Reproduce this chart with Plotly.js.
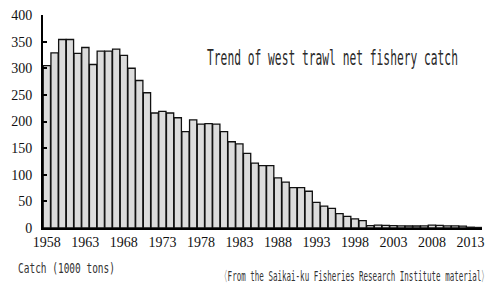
<!DOCTYPE html>
<html>
<head>
<meta charset="utf-8">
<script src="https://cdn.plot.ly/plotly-3.0.1.min.js"></script>
<style>
  html, body { margin: 0; padding: 0; background: #fff; }
  #chart { width: 500px; height: 293px; }
</style>
</head>
<body>
<div id="chart"></div>
<script>
// ---- data ----
var years = [1958, 1959, 1960, 1961, 1962, 1963, 1964, 1965, 1966, 1967,
             1968, 1969, 1970, 1971, 1972, 1973, 1974, 1975, 1976, 1977,
             1978, 1979, 1980, 1981, 1982, 1983, 1984, 1985, 1986, 1987,
             1988, 1989, 1990, 1991, 1992, 1993, 1994, 1995, 1996, 1997,
             1998, 1999, 2000, 2001, 2002, 2003, 2004, 2005, 2006, 2007,
             2008, 2009, 2010, 2011, 2012, 2013, 2014];
var catchValues = [305, 329, 354, 354, 328, 339, 307, 332, 332, 336,
                   324, 300, 277, 254, 216, 219, 216, 207, 181, 203,
                   195, 196, 195, 181, 162, 158, 140, 122, 117, 117,
                   94, 86, 76, 76, 69, 48, 41, 37, 27, 22,
                   17, 14, 4.5, 5.5, 5, 4.5, 4, 3.8, 3.8, 4,
                   5.5, 5, 4, 4, 3.5, 1.5, 1];
var xTickVals = [1958, 1963, 1968, 1973, 1978, 1983, 1988, 1993, 1998, 2003, 2008, 2013];
var xTickText = ["1958", "1963", "1968", "1973", "1978", "1983", "1988", "1993", "1998", "2003", "2008", "2013"];
var yTickVals = [0, 50, 100, 150, 200, 250, 300, 350, 400];
var titleText = "Trend of west trawl net fishery catch";
var unitText = "Catch (1000 tons)";
var sourceText = "\u3008From the Saikai-ku Fisheries Research Institute material\u3009";

// ---- chart ----
var trace = {
  type: 'bar',
  x: years,
  y: catchValues,
  marker: { color: '#dcdcdc', line: { color: '#111111', width: 1.3 } },
  hoverinfo: 'x+y'
};

var L = 42.5, R = 482, T = 15, B = 228.3;
function px2x(px) { return (px - L) / (R - L); }
function px2y(py) { return (B - py) / (B - T); }

var annFont = 'DejaVu Sans Mono, monospace';
var tickFont = { family: 'Liberation Serif, Times New Roman, serif', size: 14, color: '#111111' };
var layout = {
  width: 500, height: 293,
  margin: { l: L, r: 500 - R, t: T, b: 293 - B, pad: 0 },
  paper_bgcolor: '#ffffff',
  plot_bgcolor: '#ffffff',
  showlegend: false,
  bargap: 0.06,
  xaxis: {
    range: [1957.5, 2014.5],
    tickmode: 'array', tickvals: xTickVals, ticktext: xTickText,
    ticks: '', showgrid: false, zeroline: false,
    showline: true, linecolor: '#000000', linewidth: 2,
    tickfont: tickFont,
    ticklabelstandoff: 0
  },
  yaxis: {
    range: [0, 400],
    tickmode: 'array', tickvals: yTickVals,
    ticks: 'inside', ticklen: 4, tickwidth: 2, tickcolor: '#000000',
    showgrid: false, zeroline: false,
    showline: true, linecolor: '#000000', linewidth: 2,
    tickfont: tickFont,
    ticklabelstandoff: 6
  },
  annotations: [
    { text: titleText, xref: 'paper', yref: 'paper', x: px2x(205), y: px2y(58),
      xanchor: 'left', yanchor: 'middle', showarrow: false,
      font: { family: annFont, size: 22, color: '#2a2a2a' } },
    { text: unitText, xref: 'paper', yref: 'paper', x: px2x(15), y: px2y(268),
      xanchor: 'left', yanchor: 'middle', showarrow: false,
      font: { family: annFont, size: 14, color: '#333333' } },
    { text: sourceText, xref: 'paper', yref: 'paper', x: px2x(218), y: px2y(276),
      xanchor: 'left', yanchor: 'middle', showarrow: false,
      font: { family: annFont, size: 14, color: '#333333' } }
  ]
};

// target widths (px) of the condensed annotation texts in the reference
var targetWidths = [251, 97, 269];

Plotly.newPlot('chart', [trace], layout, { staticPlot: true, displayModeBar: false }).then(function (gd) {
  var texts = gd.querySelectorAll('.annotation-text');
  texts.forEach(function (t, i) {
    if (i >= targetWidths.length) return;
    var bb = t.getBBox();
    if (!bb.width) return;
    var s = targetWidths[i] / bb.width;
    var prev = t.getAttribute('transform') || '';
    t.setAttribute('transform', prev + ' translate(' + bb.x + ',0) scale(' + s + ',1) translate(' + (-bb.x) + ',0)');
  });
});
</script>
</body>
</html>
